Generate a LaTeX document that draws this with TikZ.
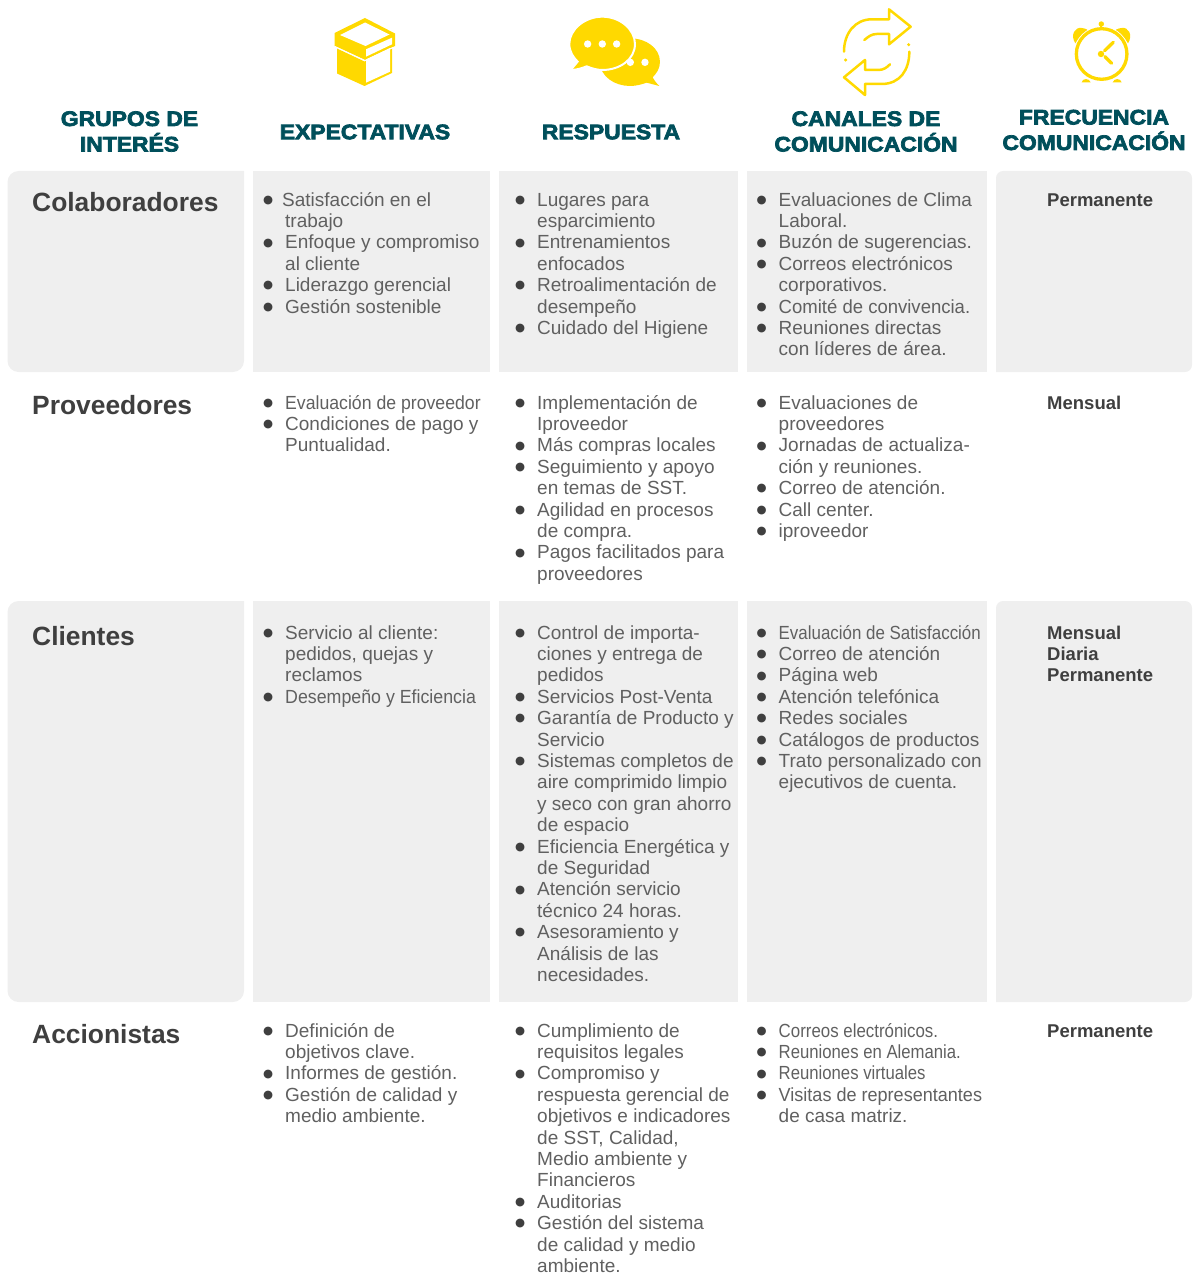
\documentclass[tikz,border=0pt]{standalone}
\usepackage{fontspec}
\setmainfont{Liberation Sans}
\newfontfamily\hdfont[FakeStretch=1.09,FakeBold=3.5]{Liberation Sans Bold}
\newfontfamily\bulfont{DejaVu Sans}
\definecolor{teal}{HTML}{004F5B}
\definecolor{ylw}{HTML}{FFD900}
\definecolor{cellbg}{HTML}{EFEFEF}
\definecolor{bodytx}{HTML}{606060}
\definecolor{headtx}{HTML}{3F3F3F}
\newcommand{\Dot}{\textcolor{headtx}{\bulfont\fontsize{11.5}{11.5}\selectfont\raisebox{2.8pt}{●}}}
\newcommand{\Bu}[1]{\strut\makebox[22pt][l]{\Dot}#1}
\newcommand{\Cn}[1]{\strut\hspace*{22pt}#1}
\newcommand{\Sq}[2]{\scalebox{#1}[1]{#2}}
\tikzset{
  cellbox/.style={fill=cellbg,draw=none},
  head/.style={text=teal,align=center,anchor=center,inner sep=0pt,font=\hdfont\fontsize{21}{25.5}\selectfont},
  group/.style={text=headtx,anchor=base west,inner sep=0pt,font=\bfseries\fontsize{26.4}{30}\selectfont},
  body/.style={text=bodytx,align=left,anchor=north west,inner sep=0pt,font=\fontsize{19}{21.4}\selectfont},
  freq/.style={text=headtx,align=left,anchor=north west,inner sep=0pt,font=\bfseries\fontsize{18.5}{21.4}\selectfont},
  icon/.style={fill=ylw,draw=none},
  iconline/.style={draw=ylw,line width=2.5pt,line cap=round,line join=round,fill=none}
}
\begin{document}
\begin{tikzpicture}[x=1pt,y=-1pt]
\useasboundingbox (0,0) rectangle (1192,1276);
% cells
\foreach \ya/\yb in {171/372,601/1002}{
  \fill[cellbox,rounded corners=11pt] (7.5,\ya) -- (7.5,\yb) -- (244,\yb) [sharp corners] -- (244,\ya) [rounded corners=11pt] -- cycle;
  \fill[cellbox] (253,\ya) rectangle (490,\yb);
  \fill[cellbox] (499,\ya) rectangle (738,\yb);
  \fill[cellbox] (747,\ya) rectangle (987,\yb);
  \fill[cellbox,rounded corners=7pt] (1192,\ya) -- (996,\ya) [sharp corners] -- (996,\yb) [rounded corners=7pt] -- (1192,\yb) -- cycle;
}
% headers
\node[head] (h1) at (129.5,131.5) {GRUPOS DE\\INTERÉS};
\node[head] (h2) at (365,132) {EXPECTATIVAS};
\node[head] (h3) at (611,132) {RESPUESTA};
\node[head] (h4) at (866,131.5) {CANALES DE\\COMUNICACIÓN};
\node[head] (h5) at (1094,130) {FRECUENCIA\\COMUNICACIÓN};
% groups
\node[group] (g1) at (32,211.5) {Colaboradores};
\node[group] (g2) at (32,414) {Proveedores};
\node[group] (g3) at (32,645) {Clientes};
\node[group] (g4) at (32,1043) {Accionistas};
% row 1
\node[body] (a1) at (263,191) {\strut\makebox[19pt][l]{\Dot}Satisfacción en el\\\Cn{trabajo}\\\Bu{Enfoque y compromiso}\\\Cn{al cliente}\\\Bu{Liderazgo gerencial}\\\Bu{Gestión sostenible}};
\node[body] (b1) at (515,191) {\Bu{Lugares para}\\\Cn{esparcimiento}\\\Bu{Entrenamientos}\\\Cn{enfocados}\\\Bu{Retroalimentación de}\\\Cn{desempeño}\\\Bu{Cuidado del Higiene}};
\node[body] (c1) at (756.5,191) {\Bu{Evaluaciones de Clima}\\\Cn{Laboral.}\\\Bu{Buzón de sugerencias.}\\\Bu{Correos electrónicos}\\\Cn{corporativos.}\\\Bu{\Sq{0.975}{Comité de convivencia.}}\\\Bu{Reuniones directas}\\\Cn{con líderes de área.}};
\node[freq] (d1) at (1047,191) {\strut Permanente};
% row 2
\node[body] (a2) at (263,394) {\Bu{\Sq{0.93}{Evaluación de proveedor}}\\\Bu{Condiciones de pago y}\\\Cn{Puntualidad.}};
\node[body] (b2) at (515,394) {\Bu{Implementación de}\\\Cn{Iproveedor}\\\Bu{Más compras locales}\\\Bu{Seguimiento y apoyo}\\\Cn{en temas de SST.}\\\Bu{Agilidad en procesos}\\\Cn{de compra.}\\\Bu{Pagos facilitados para}\\\Cn{proveedores}};
\node[body] (c2) at (756.5,394) {\Bu{Evaluaciones de}\\\Cn{proveedores}\\\Bu{Jornadas de actualiza-}\\\Cn{ción y reuniones.}\\\Bu{Correo de atención.}\\\Bu{Call center.}\\\Bu{iproveedor}};
\node[freq] (d2) at (1047,394) {\strut Mensual};
% row 3
\node[body] (a3) at (263,624) {\Bu{Servicio al cliente:}\\\Cn{pedidos, quejas y}\\\Cn{reclamos}\\\Bu{\Sq{0.936}{Desempeño y Eficiencia}}};
\node[body] (b3) at (515,624) {\Bu{Control de importa-}\\\Cn{ciones y entrega de}\\\Cn{pedidos}\\\Bu{Servicios Post-Venta}\\\Bu{Garantía de Producto y}\\\Cn{Servicio}\\\Bu{Sistemas completos de}\\\Cn{aire comprimido limpio}\\\Cn{y seco con gran ahorro}\\\Cn{de espacio}\\\Bu{Eficiencia Energética y}\\\Cn{de Seguridad}\\\Bu{Atención servicio}\\\Cn{técnico 24 horas.}\\\Bu{Asesoramiento y}\\\Cn{Análisis de las}\\\Cn{necesidades.}};
\node[body] (c3) at (756.5,624) {\Bu{\Sq{0.89}{Evaluación de Satisfacción}}\\\Bu{Correo de atención}\\\Bu{Página web}\\\Bu{Atención telefónica}\\\Bu{Redes sociales}\\\Bu{Catálogos de productos}\\\Bu{Trato personalizado con}\\\Cn{ejecutivos de cuenta.}};
\node[freq] (d3) at (1047,624) {\strut Mensual\\\strut Diaria\\\strut Permanente};
% row 4
\node[body] (a4) at (263,1022) {\Bu{Definición de}\\\Cn{objetivos clave.}\\\Bu{Informes de gestión.}\\\Bu{Gestión de calidad y}\\\Cn{medio ambiente.}};
\node[body] (b4) at (515,1022) {\Bu{Cumplimiento de}\\\Cn{requisitos legales}\\\Bu{Compromiso y}\\\Cn{respuesta gerencial de}\\\Cn{objetivos e indicadores}\\\Cn{de SST, Calidad,}\\\Cn{Medio ambiente y}\\\Cn{Financieros}\\\Bu{Auditorias}\\\Bu{Gestión del sistema}\\\Cn{de calidad y medio}\\\Cn{ambiente.}};
\node[body] (c4) at (756.5,1022) {\Bu{\Sq{0.888}{Correos electrónicos.}}\\\Bu{\Sq{0.88}{Reuniones en Alemania.}}\\\Bu{\Sq{0.88}{Reuniones virtuales}}\\\Bu{\Sq{0.95}{Visitas de representantes}}\\\Cn{de casa matriz.}};
\node[freq] (d4) at (1047,1022) {\strut Permanente};
% box icon
\fill[icon] (365,18) -- (395,33.5) -- (395,46) -- (365,60) -- (334.5,46) -- (334.5,33) -- cycle;
\fill[white] (340,35) -- (365,22.5) -- (389.5,34.5) -- (365.5,46) -- cycle;
\fill[white] (366,49.3) -- (392,37.7) -- (392,44.3) -- (366,56.7) -- cycle;
\fill[icon] (337,48.5) -- (364.5,61.5) -- (392,48.5) -- (392,73) -- (364.5,86) -- (337,73.5) -- cycle;
\fill[white] (366,59.5) -- (390,48) -- (390,71.7) -- (366,82.7) -- cycle;
\draw[white,line width=0.9pt] (335,46.5) -- (365,60.5) -- (393,47.5);
% chat icon
\begin{scope}[shift={(300,0)},x=0.3333pt,y=-0.3333pt]
\fill[icon] (1080,186) .. controls (1080,145) and (1040,115) .. (990,115) .. controls (940,115) and (900,145) .. (900,186) .. controls (900,230) and (945,258) .. (990,258) .. controls (1010,258) and (1025,253) .. (1040,248) -- (1078,258) .. controls (1068,248) and (1062,240) .. (1058,232) .. controls (1070,220) and (1080,205) .. (1080,186) -- cycle;
\fill[white] (1035,187) circle (3.7pt);
\fill[white] (991,187) circle (3.7pt);
\fill[icon,draw=white,line width=2pt] (1005,132) .. controls (1005,88) and (960,50) .. (907,50) .. controls (855,50) and (808,88) .. (808,132) .. controls (808,155) and (820,172) .. (833,185) -- (812,210) .. controls (830,210) and (845,205) .. (860,199) .. controls (875,205) and (890,210) .. (907,210) .. controls (960,210) and (1005,178) .. (1005,132) -- cycle;
\fill[white] (863,132) circle (3.7pt);
\fill[white] (907,132) circle (3.7pt);
\fill[white] (950,132) circle (3.7pt);
\end{scope}
% cycle icon
\begin{scope}[shift={(820,0)},x=0.3333pt,y=-0.3333pt]
\draw[iconline] (72,155) .. controls (72,100) and (105,58) .. (155,58) -- (207,58) -- (207,28) -- (272,80) -- (207,133) -- (207,102) -- (170,102) .. controls (155,102) and (145,110) .. (133,120);
\draw[iconline] (268,155) .. controls (268,210) and (240,252) .. (185,252) -- (135,252) -- (135,285) -- (72,232) -- (135,180) -- (135,210) -- (175,210) .. controls (190,210) and (200,203) .. (210,193);
\fill[icon] (77,180) circle (1.7pt);
\fill[icon] (266,134) circle (1.7pt);
% clock
\fill[icon] (766,130) .. controls (750,105) and (765,80) .. (785,84) .. controls (797,85) and (805,90) .. (808,95) .. controls (790,100) and (775,113) .. (766,130) -- cycle;
\fill[icon] (924,130) .. controls (940,105) and (925,80) .. (905,84) .. controls (893,85) and (885,90) .. (882,95) .. controls (900,100) and (915,113) .. (924,130) -- cycle;
\draw[draw=white,line width=5pt] (845,162) circle (25.3pt);
\draw[draw=ylw,line width=3.3pt] (845,162) circle (25.3pt);
\fill[icon] (843,162) circle (3.2pt);
\draw[draw=ylw,line width=3.3pt,line cap=round] (854,152) -- (880,127);
\draw[draw=ylw,line width=3.3pt,line cap=round] (855,170) -- (875,190);
\fill[icon] (844,72) circle (2.7pt);
\fill[icon] (841,74) rectangle (847,88);
\fill[icon] (785,247) .. controls (787,234) and (808,234) .. (812,247) -- cycle;
\fill[icon] (878,247) .. controls (882,234) and (902,234) .. (905,247) -- cycle;
\end{scope}
\end{tikzpicture}
\end{document}
